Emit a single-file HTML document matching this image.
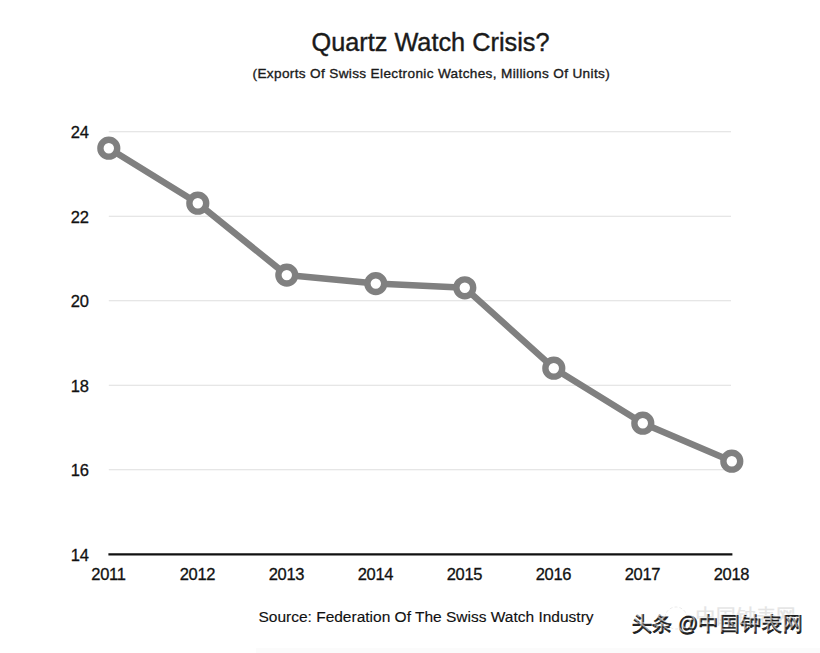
<!DOCTYPE html>
<html><head><meta charset="utf-8">
<style>
html,body{margin:0;padding:0;background:#fff;}
body{width:820px;height:653px;overflow:hidden;position:relative;font-family:"Liberation Sans",sans-serif;}
svg{position:absolute;left:0;top:0;}
</style></head>
<body>
<svg width="820" height="653" viewBox="0 0 820 653" font-family="Liberation Sans, sans-serif">
  <rect width="820" height="653" fill="#fff"/>
  <text x="430.5" y="51" font-size="25.3" text-anchor="middle" fill="#1a1a1a" stroke="#1a1a1a" stroke-width="0.4">Quartz Watch Crisis?</text>
  <text x="431.3" y="77.8" font-size="13.6" letter-spacing="0.35" text-anchor="middle" fill="#1a1a1a" stroke="#1a1a1a" stroke-width="0.35">(Exports Of Swiss Electronic Watches, Millions Of Units)</text>
  <g stroke="#dedede" stroke-width="1.1">
    <line x1="108.8" y1="131.8" x2="731" y2="131.8"/>
    <line x1="108.8" y1="216.3" x2="731" y2="216.3"/>
    <line x1="108.8" y1="300.8" x2="731" y2="300.8"/>
    <line x1="108.8" y1="385.3" x2="731" y2="385.3"/>
    <line x1="108.8" y1="469.8" x2="731" y2="469.8"/>
  </g>
  <line x1="108.4" y1="554.3" x2="732.4" y2="554.3" stroke="#111" stroke-width="2.2"/>
  <g font-size="16.5" fill="#111" text-anchor="end" stroke="#111" stroke-width="0.3">
    <text x="89" y="138.3">24</text>
    <text x="89" y="222.8">22</text>
    <text x="89" y="307.3">20</text>
    <text x="89" y="391.8">18</text>
    <text x="89" y="476.3">16</text>
    <text x="89" y="561">14</text>
  </g>
  <g font-size="16.5" fill="#111" text-anchor="middle" stroke="#111" stroke-width="0.3" letter-spacing="-0.3">
    <text x="108.4" y="580.4">2011</text>
    <text x="197.4" y="580.4">2012</text>
    <text x="286.4" y="580.4">2013</text>
    <text x="375.4" y="580.4">2014</text>
    <text x="464.4" y="580.4">2015</text>
    <text x="553.4" y="580.4">2016</text>
    <text x="642.4" y="580.4">2017</text>
    <text x="731.4" y="580.4">2018</text>
  </g>
  <polyline fill="none" stroke="#808080" stroke-width="6.5" stroke-linejoin="round"
    points="108.8,148.2 197.8,203.2 286.8,275.1 375.8,283.6 464.8,287.8 553.8,368.2 642.8,423.2 731.8,461.2"/>
  <g fill="#fff" stroke="#808080" stroke-width="6.4">
    <circle cx="108.8" cy="148.2" r="8.4"/>
    <circle cx="197.8" cy="203.2" r="8.4"/>
    <circle cx="286.8" cy="275.1" r="8.4"/>
    <circle cx="375.8" cy="283.6" r="8.4"/>
    <circle cx="464.8" cy="287.8" r="8.4"/>
    <circle cx="553.8" cy="368.2" r="8.4"/>
    <circle cx="642.8" cy="423.2" r="8.4"/>
    <circle cx="731.8" cy="461.2" r="8.4"/>
  </g>
  <text x="426" y="622.2" font-size="15.5" text-anchor="middle" fill="#111" stroke="#111" stroke-width="0.15">Source: Federation Of The Swiss Watch Industry</text>
  <rect x="256" y="648" width="564" height="5" fill="#fbfbfb"/>
  <g font-size="20">
    <text x="696" y="623" fill="#e4e4e4" stroke="#e4e4e4" stroke-width="0.3">中国钟表网</text>
    <circle cx="676" cy="618" r="11" fill="none" stroke="#e6e6e6" stroke-width="0.8" stroke-dasharray="3 2"/>
    <g fill="#1e1e1e" stroke="#1e1e1e" stroke-width="0.9">
      <text x="632" y="630.5">头条</text>
      <text x="678" y="630.5" letter-spacing="1">@中国钟表网</text>
    </g>
    <g fill="#ffffff" stroke="#ffffff" stroke-width="0.1" opacity="0.55">
      <text x="630.6" y="629.1">头条</text>
      <text x="676.6" y="629.1" letter-spacing="1">@中国钟表网</text>
    </g>
  </g>
</svg>
</body></html>
